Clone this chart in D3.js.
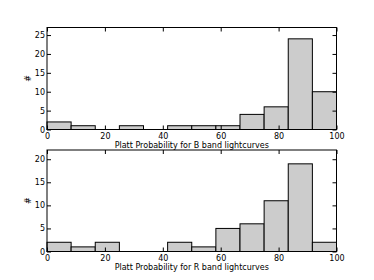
<!DOCTYPE html>
<html>
<head>
<meta charset="utf-8">
<style>
  body { margin: 0; background: #fff; }
  text { font-family: "DejaVu Sans", sans-serif; }
</style>
</head>
<body>
<script src="https://d3js.org/d3.v7.min.js"></script>
<script>
// 12 equal bins over 0-100
var binEdges = d3.range(13).map(function(i){ return i * 100 / 12; });
var countsB = [2, 1, 0, 1, 0, 1, 1, 1, 4, 6, 24, 10];
var countsR = [2, 1, 2, 0, 0, 2, 1, 5, 6, 11, 19, 2];
var xTicks = [0, 20, 40, 60, 80, 100];
var yTicksB = [0, 5, 10, 15, 20, 25];
var yTicksR = [0, 5, 10, 15, 20];
var labelB = "Platt Probability for B band lightcurves";
var labelR = "Platt Probability for R band lightcurves";

var W = 374, H = 280;
var svg = d3.select("body").append("svg").attr("width", W).attr("height", H);

function panel(counts, yMax, yTicks, label, top, bottom) {
  var left = 47, right = 336.5;
  var x = d3.scaleLinear().domain([0, 100]).range([left, right]);
  var y = d3.scaleLinear().domain([0, yMax]).range([bottom, top]);
  var g = svg.append("g");

  g.selectAll("rect.bar")
    .data(counts)
    .enter().append("rect")
    .attr("class", "bar")
    .attr("x", function(d, i){ return x(binEdges[i]); })
    .attr("y", function(d){ return y(d); })
    .attr("width", function(d, i){ return x(binEdges[i + 1]) - x(binEdges[i]); })
    .attr("height", function(d){ return y(0) - y(d); })
    .attr("fill", "#cccccc")
    .attr("stroke", "#000")
    .attr("stroke-width", 1);

  // frame
  g.append("rect")
    .attr("x", left).attr("y", top)
    .attr("width", right - left).attr("height", bottom - top)
    .attr("fill", "none").attr("stroke", "#000").attr("stroke-width", 1);

  // inward ticks on all sides
  var ax = g.append("g").attr("transform", "translate(0," + bottom + ")")
    .call(d3.axisBottom(x).tickValues(xTicks).tickSize(-4).tickPadding(5).tickFormat(d3.format("d")));
  var axT = g.append("g").attr("transform", "translate(0," + top + ")")
    .call(d3.axisTop(x).tickValues(xTicks).tickSize(-4).tickFormat(""));
  var ay = g.append("g").attr("transform", "translate(" + left + ",0)")
    .call(d3.axisLeft(y).tickValues(yTicks).tickSize(-4).tickPadding(2));
  var ayR = g.append("g").attr("transform", "translate(" + right + ",0)")
    .call(d3.axisRight(y).tickValues(yTicks).tickSize(-4).tickFormat(""));
  [ax, axT, ay, ayR].forEach(function(a){
    a.select(".domain").remove();
    a.selectAll("line").attr("stroke", "#000");
    a.selectAll("text").attr("font-size", "8px").attr("fill", "#000");
  });
  ax.selectAll("text").attr("dy", "0.5em");

  g.append("text")
    .attr("x", (left + right) / 2).attr("y", bottom + 18)
    .attr("text-anchor", "middle").attr("font-size", "8px")
    .text(label);

  g.append("text")
    .attr("transform", "translate(31," + ((top + bottom) / 2) + ") rotate(-90)")
    .attr("text-anchor", "middle").attr("font-size", "8px")
    .text("#");
}

panel(countsB, 27, yTicksB, labelB, 27.5, 129.5);
panel(countsR, 22, yTicksR, labelR, 150, 251.5);
</script>
</body>
</html>
